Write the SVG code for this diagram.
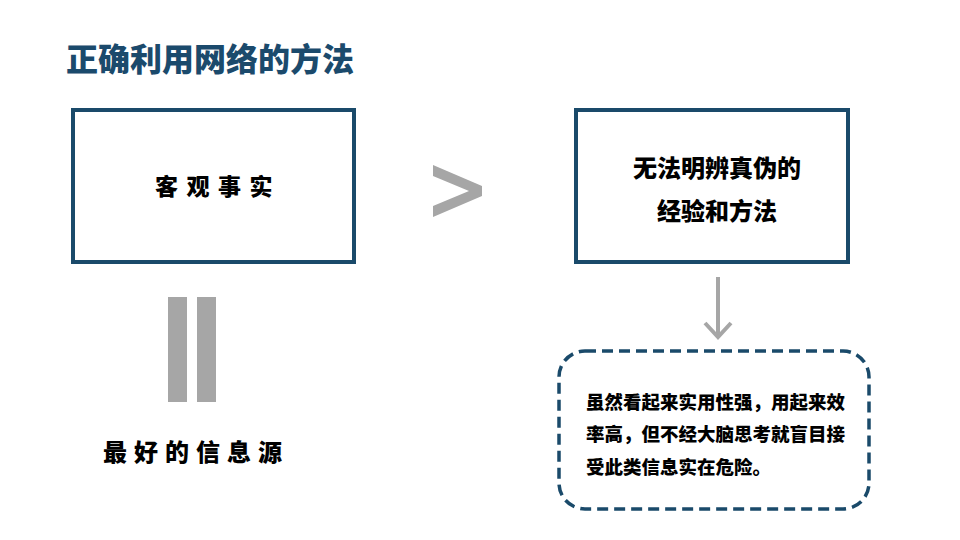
<svg xmlns="http://www.w3.org/2000/svg" width="960" height="540" viewBox="0 0 960 540">
<style>
.box{fill:#fff;stroke:#1a4a6a;stroke-width:4}
.dash{fill:#fff;stroke:#1a4a6a;stroke-width:3.5;stroke-dasharray:11 6}
.t{font-family:"Noto Sans CJK SC","Noto Sans",sans-serif;font-weight:900;fill:#000}
.gray{fill:#a6a6a6}
</style>
<rect width="960" height="540" fill="#fff"/>
<text x="66" y="71" class="t" style="font-size:32px;fill:#1b4a6c">正确利用网络的方法</text>
<g id="node-fact">
<rect class="box" x="73" y="110" width="281" height="152"/>
<text x="155" y="195" class="t" style="font-size:23px;letter-spacing:8.5px">客观事实</text>
</g>
<g id="node-method">
<rect class="box" x="576" y="110" width="272" height="152"/>
<text x="717" y="177" class="t" text-anchor="middle" style="font-size:24px">无法明辨真伪的</text>
<text x="717" y="220" class="t" text-anchor="middle" style="font-size:24px">经验和方法</text>
</g>
<g id="node-source">
<text x="103" y="461" class="t" style="font-size:24px;letter-spacing:7px">最好的信息源</text>
</g>
<g id="node-warning">
<rect class="dash" x="559" y="351" width="310" height="158" rx="26" ry="26"/>
<text class="t" style="font-size:18.5px">
<tspan x="586" y="409">虽然看起来实用性强，用起来效</tspan>
<tspan x="586" y="441">率高，但不经大脑思考就盲目接</tspan>
<tspan x="586" y="474">受此类信息实在危险。</tspan>
</text>
</g>
<g id="connectors">
<polygon class="gray" points="433,165 482,186 482,196 433,217 433,206 469,191 433,176"/>
<rect class="gray" x="168" y="297" width="19" height="105"/>
<rect class="gray" x="197" y="297" width="19" height="105"/>
<line x1="718" y1="277" x2="718" y2="336" stroke="#a6a6a6" stroke-width="4"/>
<polyline points="705,323 718,337 731,323" fill="none" stroke="#a6a6a6" stroke-width="4"/>
</g>
</svg>
